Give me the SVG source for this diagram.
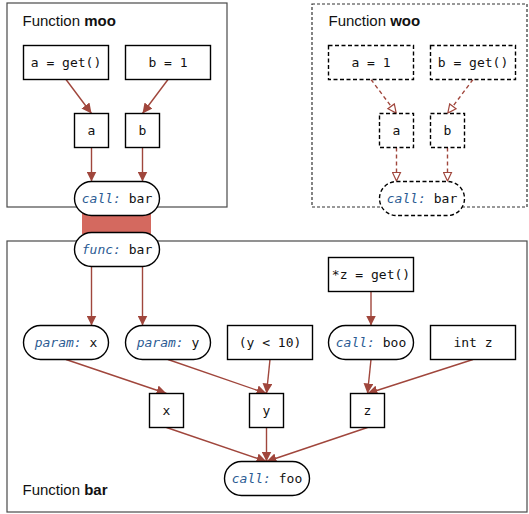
<svg xmlns="http://www.w3.org/2000/svg" width="529" height="514" viewBox="0 0 529 514">
<defs>
<marker id="ah" viewBox="0 0 10 10" refX="10" refY="5" markerWidth="10" markerHeight="10" markerUnits="userSpaceOnUse" orient="auto">
<path d="M0,0 L10,5 L0,10 z" fill="#a0463c"/>
</marker>
<marker id="ahh" viewBox="0 0 10 10" refX="10" refY="5" markerWidth="10" markerHeight="10" markerUnits="userSpaceOnUse" orient="auto">
<path d="M1,1 L9.5,5 L1,9 z" fill="#fff" stroke="#a0463c" stroke-width="1.2"/>
</marker>
<style>
.grp{fill:#fff;stroke:#4a4a4a;stroke-width:1.2}
.grpd{fill:#fff;stroke:#333;stroke-width:1.2;stroke-dasharray:3 2}
.box{fill:#fff;stroke:#000;stroke-width:1.4}
.boxd{fill:#fff;stroke:#000;stroke-width:1.4;stroke-dasharray:4 2.5}
.t{font-family:"DejaVu Sans Mono",monospace;font-size:13px;fill:#111;text-anchor:middle}
.k{font-style:italic;fill:#2b5b93}
.lbl{font-family:"Liberation Sans",Arial,sans-serif;font-size:15px;fill:#111}
.e{stroke:#a0463c;stroke-width:1.4;fill:none;marker-end:url(#ah)}
.ed{stroke:#a0463c;stroke-width:1.4;fill:none;stroke-dasharray:4 3;marker-end:url(#ahh)}
</style>
</defs>
<g id="cluster-moo">
<rect class="grp" x="7" y="3" width="220" height="204"/>
<text class="lbl" x="22.5" y="26">Function <tspan font-weight="bold">moo</tspan></text>
</g>
<g id="cluster-woo">
<rect class="grpd" x="312" y="4" width="215" height="203"/>
<text class="lbl" x="328.5" y="26">Function <tspan font-weight="bold">woo</tspan></text>
</g>
<g id="cluster-bar">
<rect class="grp" x="7" y="241" width="520" height="271"/>
<text class="lbl" x="22.5" y="495">Function <tspan font-weight="bold">bar</tspan></text>
</g>
<g id="connectors">
<rect x="82" y="212" width="69" height="22" fill="#d4695f"/>
<line class="e" x1="66" y1="79.5" x2="91.5" y2="113.5"/>
<line class="e" x1="168" y1="79.5" x2="142.5" y2="113.5"/>
<line class="e" x1="91.5" y1="147.5" x2="91.5" y2="181.5"/>
<line class="e" x1="142.5" y1="147.5" x2="142.5" y2="181.5"/>
<line class="ed" x1="371" y1="79.5" x2="396.5" y2="113.5"/>
<line class="ed" x1="473" y1="79.5" x2="447.5" y2="113.5"/>
<line class="ed" x1="396.5" y1="147.5" x2="396.5" y2="181.5"/>
<line class="ed" x1="447.5" y1="147.5" x2="447.5" y2="181.5"/>
<line class="e" x1="91.5" y1="266.5" x2="91.5" y2="325.5"/>
<line class="e" x1="142.5" y1="266.5" x2="142.5" y2="325.5"/>
<line class="e" x1="371" y1="291.5" x2="371" y2="325.5"/>
<line class="e" x1="66" y1="359.5" x2="166.5" y2="393.5"/>
<line class="e" x1="168" y1="359.5" x2="266.5" y2="393.5"/>
<line class="e" x1="270" y1="359.5" x2="266.5" y2="393.5"/>
<line class="e" x1="371" y1="359.5" x2="367.5" y2="393.5"/>
<line class="e" x1="473" y1="359.5" x2="367.5" y2="393.5"/>
<line class="e" x1="166.5" y1="427.5" x2="266.5" y2="461.5"/>
<line class="e" x1="266.5" y1="427.5" x2="266.5" y2="461.5"/>
<line class="e" x1="367.5" y1="427.5" x2="266.5" y2="461.5"/>
</g>
<g id="moo-a-get"><rect class="box" x="23.5" y="45.5" width="85" height="34"/><text class="t" x="66" y="67">a = get()</text></g>
<g id="moo-b-1"><rect class="box" x="125.5" y="45.5" width="85" height="34"/><text class="t" x="168" y="67">b = 1</text></g>
<g id="moo-a"><rect class="box" x="74.5" y="113.5" width="34" height="34"/><text class="t" x="91.5" y="135">a</text></g>
<g id="moo-b"><rect class="box" x="125.5" y="113.5" width="34" height="34"/><text class="t" x="142.5" y="135">b</text></g>
<g id="moo-call-bar"><rect class="box" x="74.5" y="181.5" width="85" height="34" rx="17"/><text class="t" x="117" y="203"><tspan class="k">call:</tspan> bar</text></g>
<g id="woo-a-1"><rect class="boxd" x="328.5" y="45.5" width="85" height="34"/><text class="t" x="371" y="67">a = 1</text></g>
<g id="woo-b-get"><rect class="boxd" x="430.5" y="45.5" width="85" height="34"/><text class="t" x="473" y="67">b = get()</text></g>
<g id="woo-a"><rect class="boxd" x="379.5" y="113.5" width="34" height="34"/><text class="t" x="396.5" y="135">a</text></g>
<g id="woo-b"><rect class="boxd" x="430.5" y="113.5" width="34" height="34"/><text class="t" x="447.5" y="135">b</text></g>
<g id="woo-call-bar"><rect class="boxd" x="379.5" y="181.5" width="85" height="34" rx="17"/><text class="t" x="422" y="203"><tspan class="k">call:</tspan> bar</text></g>
<g id="func-bar"><rect class="box" x="74.5" y="232.5" width="85" height="34" rx="17"/><text class="t" x="117" y="254"><tspan class="k">func:</tspan> bar</text></g>
<g id="z-get"><rect class="box" x="328.5" y="257.5" width="85" height="34"/><text class="t" x="371" y="279">*z = get()</text></g>
<g id="param-x"><rect class="box" x="23.5" y="325.5" width="85" height="34" rx="17"/><text class="t" x="66" y="347"><tspan class="k">param:</tspan> x</text></g>
<g id="param-y"><rect class="box" x="125.5" y="325.5" width="85" height="34" rx="17"/><text class="t" x="168" y="347"><tspan class="k">param:</tspan> y</text></g>
<g id="cond"><rect class="box" x="227.5" y="325.5" width="85" height="34"/><text class="t" x="270" y="347">(y &lt; 10)</text></g>
<g id="call-boo"><rect class="box" x="328.5" y="325.5" width="85" height="34" rx="17"/><text class="t" x="371" y="347"><tspan class="k">call:</tspan> boo</text></g>
<g id="int-z"><rect class="box" x="430.5" y="325.5" width="85" height="34"/><text class="t" x="473" y="347">int z</text></g>
<g id="x"><rect class="box" x="149.5" y="393.5" width="34" height="34"/><text class="t" x="166.5" y="415">x</text></g>
<g id="y"><rect class="box" x="249.5" y="393.5" width="34" height="34"/><text class="t" x="266.5" y="415">y</text></g>
<g id="z"><rect class="box" x="350.5" y="393.5" width="34" height="34"/><text class="t" x="367.5" y="415">z</text></g>
<g id="call-foo"><rect class="box" x="224.5" y="461.5" width="85" height="34" rx="17"/><text class="t" x="267" y="483"><tspan class="k">call:</tspan> foo</text></g>
</svg>
